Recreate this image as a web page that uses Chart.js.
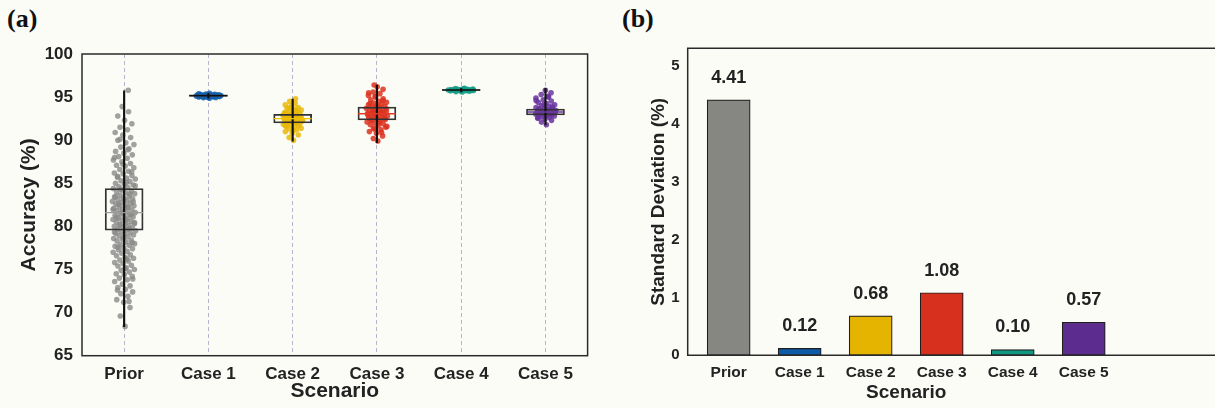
<!DOCTYPE html>
<html>
<head>
<meta charset="utf-8">
<script src="https://cdn.jsdelivr.net/npm/chart.js@4.4.7/dist/chart.umd.min.js"></script>
<style>
  html, body { margin: 0; padding: 0; background: #fcfcf7; overflow: hidden; width: 1215px; height: 408px; }
  .panel { position: absolute; top: 0; }
  #left { left: 0; }
  #right { left: 600px; }
  .tag { position: absolute; top: 4px; font: bold 26px "Liberation Serif", "DejaVu Serif", serif; color: #111; }
</style>
</head>
<body>
<div class="tag" style="left:7px">(a)</div>
<div class="tag" style="left:622px">(b)</div>
<canvas id="left" class="panel" width="608" height="408"></canvas>
<canvas id="right" class="panel" width="615" height="408"></canvas>
<script>
// ---- data ----
const scenarios = ["Prior", "Case 1", "Case 2", "Case 3", "Case 4", "Case 5"]

const priorAcc = [68.4, 69.6, 70.6, 71.2, 71.5, 71.9, 72.2, 72.4, 72.7, 72.9, 73.1, 73.3, 73.6, 73.8, 74.0, 74.2, 74.4, 74.5,
  74.7, 74.9, 75.0, 75.2, 75.4, 75.5, 75.7, 75.8, 76.0, 76.1, 76.3, 76.4, 76.6, 76.7, 76.9, 77.0, 77.1, 77.3, 77.4, 77.5,
  77.7, 77.8, 77.9, 78.0, 78.2, 78.3, 78.4, 78.5, 78.6, 78.8, 78.9, 79.0, 79.1, 79.2, 79.3, 79.4, 79.5, 79.6, 79.7, 79.8,
  79.9, 80.0, 80.1, 80.2, 80.3, 80.4, 80.5, 80.6, 80.7, 80.8, 80.9, 81.0, 81.1, 81.2, 81.3, 81.4, 81.5, 81.6, 81.7, 81.8,
  81.9, 82.0, 82.1, 82.2, 82.3, 82.4, 82.5, 82.6, 82.7, 82.8, 82.9, 83.0, 83.1, 83.2, 83.3, 83.4, 83.5, 83.6, 83.8, 83.9,
  84.0, 84.1, 84.2, 84.4, 84.5, 84.6, 84.8, 84.9, 85.0, 85.2, 85.3, 85.5, 85.6, 85.8, 85.9, 86.1, 86.2, 86.4, 86.6, 86.8,
  87.0, 87.1, 87.3, 87.5, 87.7, 87.9, 88.1, 88.3, 88.5, 88.7, 89.0, 89.2, 89.5, 89.7, 90.0, 90.3, 90.6, 90.9, 91.2, 91.5,
  91.9, 92.3, 92.8, 93.3, 93.9, 95.8,
  76.2, 77.6, 78.1, 78.7, 79.35, 79.75, 80.15, 80.45, 80.75, 81.05, 81.35, 81.65, 81.95, 82.25, 82.55, 82.85, 83.15,
  83.45, 83.75, 84.3, 84.7, 85.1, 85.7, 86.3, 87.2, 88.0, 88.9, 90.1, 73.9, 75.1, 72.6, 71.3]
const case1Acc = [94.88, 94.93, 94.96, 94.99, 95.01, 95.03, 95.05, 95.06, 95.08, 95.09, 95.10, 95.11, 95.12, 95.13, 95.14,
  95.15, 95.15, 95.16, 95.17, 95.17, 95.18, 95.19, 95.20, 95.21, 95.22, 95.23, 95.24, 95.25, 95.27, 95.28, 95.30, 95.32,
  95.35, 95.38, 95.44]
const case2Acc = [90.0, 90.3, 90.6, 90.8, 91.0, 91.2, 91.3, 91.4, 91.5, 91.6, 91.7, 91.8, 91.85, 91.9, 92.0, 92.05, 92.1,
  92.15, 92.2, 92.25, 92.3, 92.35, 92.4, 92.45, 92.5, 92.5, 92.55, 92.6, 92.65, 92.7, 92.75, 92.8, 92.85, 92.9, 92.95,
  93.0, 93.05, 93.1, 93.2, 93.3, 93.4, 93.5, 93.6, 93.7, 93.8, 93.95, 94.1, 94.3, 94.5, 94.8,
  91.1, 91.65, 91.95, 92.12, 92.28, 92.42, 92.58, 92.72, 92.88, 93.15, 93.45, 93.75]
const case3Acc = [89.9, 90.2, 90.5, 90.8, 91.0, 91.2, 91.4, 91.5, 91.7, 91.8, 91.9, 92.0, 92.1, 92.2, 92.3, 92.4, 92.5,
  92.6, 92.65, 92.7, 92.8, 92.85, 92.9, 93.0, 93.05, 93.1, 93.15, 93.2, 93.3, 93.35, 93.4, 93.5, 93.6, 93.7, 93.8, 93.85,
  93.9, 94.0, 94.1, 94.2, 94.3, 94.4, 94.5, 94.7, 94.8, 95.0, 95.2, 95.4, 95.6, 95.9, 96.2, 96.4,
  90.9, 91.3, 91.6, 92.05, 92.35, 92.55, 92.75, 92.95, 93.25, 93.45, 93.65, 93.95, 94.25, 94.6, 95.1, 95.5]
const case4Acc = [95.6, 95.64, 95.68, 95.71, 95.73, 95.75, 95.76, 95.78, 95.79, 95.8, 95.81, 95.82, 95.83, 95.84, 95.85,
  95.86, 95.87, 95.88, 95.9, 95.91, 95.93, 95.95, 95.98, 96.02]
const case5Acc = [91.8, 92.1, 92.3, 92.45, 92.55, 92.65, 92.75, 92.8, 92.85, 92.9, 92.95, 93.0, 93.05, 93.1, 93.15, 93.2,
  93.25, 93.3, 93.35, 93.4, 93.45, 93.5, 93.55, 93.6, 93.7, 93.8, 93.9, 94.0, 94.1, 94.25, 94.4, 94.55, 94.7, 94.9, 95.1,
  95.3, 95.5, 95.8, 92.6, 92.98, 93.12, 93.28, 93.42, 93.65, 93.85, 94.15, 94.6, 95.0]

// box summaries
const boxQ1 = [79.55, 95.09, 92.0, 92.34, 95.78, 92.92]
const boxMedian = [81.6, 95.17, 92.5, 93.07, 95.83, 93.27]
const boxQ3 = [84.4, 95.25, 93.0, 93.85, 95.88, 93.62]
const whiskerLow = [68.36, 94.88, 89.9, 89.7, 95.6, 91.76]
const whiskerHigh = [95.74, 95.44, 94.78, 96.4, 96.02, 96.02]

// panel (b)
const stdDev = [4.41, 0.12, 0.68, 1.08, 0.10, 0.57]

// ---- styles ----
const pointColors = ["rgba(138,138,136,0.8)", "rgba(20,94,172,0.85)", "rgba(232,184,10,0.85)",
  "rgba(220,50,32,0.85)", "rgba(18,156,134,0.85)", "rgba(104,52,158,0.85)"]
const medianColors = ["#9a9a9a", "#111", "#f2c200", "#e23a26", "#111", "#6b3aa0"]
const barColors = ["#868682", "#0d5aa7", "#e4b400", "#d7301f", "#109883", "#5c2c8f"]
const jitter = [0.14, 0.155, 0.12, 0.13, 0.165, 0.13]
const FONT = "'Liberation Sans', Arial, sans-serif"
const INK = "#222"

Chart.defaults.font.family = FONT
Chart.defaults.color = INK

// box round the plot; "open" leaves the right side off and runs top/bottom to the canvas edge
const frame = {
  id: "frame",
  afterDraw(chart, args, opts) {
    const { ctx, chartArea: a } = chart
    ctx.save()
    ctx.strokeStyle = "#2a2a2a"
    ctx.lineWidth = 1.5
    if (opts.open) {
      ctx.beginPath()
      ctx.moveTo(chart.width, a.top)
      ctx.lineTo(a.left, a.top)
      ctx.lineTo(a.left, a.bottom)
      ctx.lineTo(chart.width, a.bottom)
      ctx.stroke()
    } else {
      ctx.strokeRect(a.left, a.top, a.right - a.left, a.bottom - a.top)
    }
    ctx.restore()
  }
}

function strip(values, idx) {
  const lo = Math.min(...values), hi = Math.max(...values)
  const mid = (lo + hi) / 2, half = (hi - lo) / 2
  return values.map((v, k) => {
    const u = (((k + 1) * 0.6180339887) % 1) * 2 - 1
    const t = (v - mid) / half
    const taper = 0.35 + 0.65 * Math.sqrt(Math.max(0, 1 - t * t))
    return { x: idx + u * jitter[idx] * taper, y: v }
  })
}

const allAcc = [priorAcc, case1Acc, case2Acc, case3Acc, case4Acc, case5Acc]
const stripSets = allAcc.map((vals, i) => ({
  type: "scatter",
  data: strip(vals, i),
  backgroundColor: pointColors[i],
  borderWidth: 0,
  pointRadius: 2.8,
  order: 4
}))

const catTicks = axis => { axis.ticks = scenarios.map((_, i) => ({ value: i })) }
const fitX = h => s => { s.height = h; s.paddingLeft = 0; s.paddingRight = 0 }

new Chart(document.getElementById("left"), {
  data: {
    datasets: [
      ...stripSets,
      {
        type: "bar",
        data: scenarios.map((_, i) => ({ x: i, y: [boxQ1[i], boxQ3[i]] })),
        backgroundColor: "rgba(0,0,0,0)",
        borderColor: "#333",
        borderWidth: 1.2,
        borderSkipped: false,
        barThickness: 38,
        grouped: false,
        order: 2
      },
      {
        type: "bar",
        data: scenarios.map((_, i) => ({ x: i, y: [whiskerLow[i], whiskerHigh[i]] })),
        backgroundColor: "#111",
        borderWidth: 0,
        barThickness: 1.5,
        grouped: false,
        order: 1
      },
      {
        type: "scatter",
        data: scenarios.map((_, i) => ({ x: i, y: boxMedian[i] })),
        pointStyle: "line",
        pointRadius: 19,
        borderColor: medianColors,
        borderWidth: 1.4,
        order: 0
      }
    ]
  },
  options: {
    responsive: false,
    animation: false,
    events: [],
    layout: { padding: { top: 54, right: 12, left: 0, bottom: 0 } },
    plugins: { legend: { display: false }, tooltip: { enabled: false } },
    scales: {
      x: {
        type: "linear",
        min: -0.5,
        max: 5.5,
        offset: false,
        afterBuildTicks: catTicks,
        afterFit: fitX(52.3),
        grid: { color: "#b4b6cc", lineWidth: 1, drawTicks: false, offset: false },
        border: { display: false, dash: [4, 3] },
        ticks: {
          autoSkip: false, maxRotation: 0, padding: 8,
          font: { size: 17, weight: "bold" }, color: INK,
          callback: v => scenarios[v]
        },
        title: { display: true, text: "Scenario", font: { size: 21, weight: "bold" }, color: INK, padding: { top: 1 } }
      },
      y: {
        min: 65,
        max: 100,
        afterFit: s => { s.width = 82 },
        grid: { display: false, drawTicks: false },
        border: { display: false },
        ticks: { stepSize: 5, padding: 9, font: { size: 17, weight: "bold" }, color: INK },
        title: { display: true, text: "Accuracy (%)", font: { size: 21, weight: "bold" }, color: INK, padding: { top: 17 } }
      }
    }
  },
  plugins: [frame]
})

const barLabels = {
  id: "barLabels",
  afterDatasetsDraw(chart) {
    const { ctx } = chart
    const meta = chart.getDatasetMeta(0)
    ctx.save()
    ctx.font = "bold 18px " + FONT
    ctx.fillStyle = INK
    ctx.textAlign = "center"
    ctx.textBaseline = "middle"
    meta.data.forEach((el, i) => ctx.fillText(stdDev[i].toFixed(2), el.x, el.y - 22))
    ctx.restore()
  }
}

new Chart(document.getElementById("right"), {
  type: "bar",
  data: {
    datasets: [{
      data: stdDev.map((v, i) => ({ x: i, y: v })),
      backgroundColor: barColors,
      borderColor: "#1e1e1e",
      borderWidth: 1.2,
      borderSkipped: false,
      barThickness: 43
    }]
  },
  options: {
    responsive: false,
    animation: false,
    events: [],
    layout: { padding: { top: 48.3, right: 90.3, left: 0, bottom: 0 } },
    plugins: { legend: { display: false }, tooltip: { enabled: false }, frame: { open: true } },
    scales: {
      x: {
        type: "linear",
        min: -0.577,
        max: 5.577,
        offset: false,
        afterBuildTicks: catTicks,
        afterFit: fitX(52.7),
        grid: { display: false, drawTicks: false, offset: false },
        border: { display: false },
        ticks: {
          autoSkip: false, maxRotation: 0, padding: 8,
          font: { size: 15.5, weight: "bold" }, color: INK,
          callback: v => scenarios[v]
        },
        title: { display: true, text: "Scenario", font: { size: 19, weight: "bold" }, color: INK, padding: { top: 2 } }
      },
      y: {
        min: 0,
        max: 5.3,
        afterBuildTicks: a => { a.ticks = [0, 1, 2, 3, 4, 5].map(v => ({ value: v })) },
        afterFit: s => { s.width = 87.7 },
        grid: { display: false, drawTicks: false },
        border: { display: false },
        ticks: { padding: 8, font: { size: 15, weight: "bold" }, color: INK },
        title: { display: true, text: "Standard Deviation (%)", font: { size: 19, weight: "bold" }, color: INK, padding: { top: 47 } }
      }
    }
  },
  plugins: [frame, barLabels]
})
</script>
</body>
</html>
